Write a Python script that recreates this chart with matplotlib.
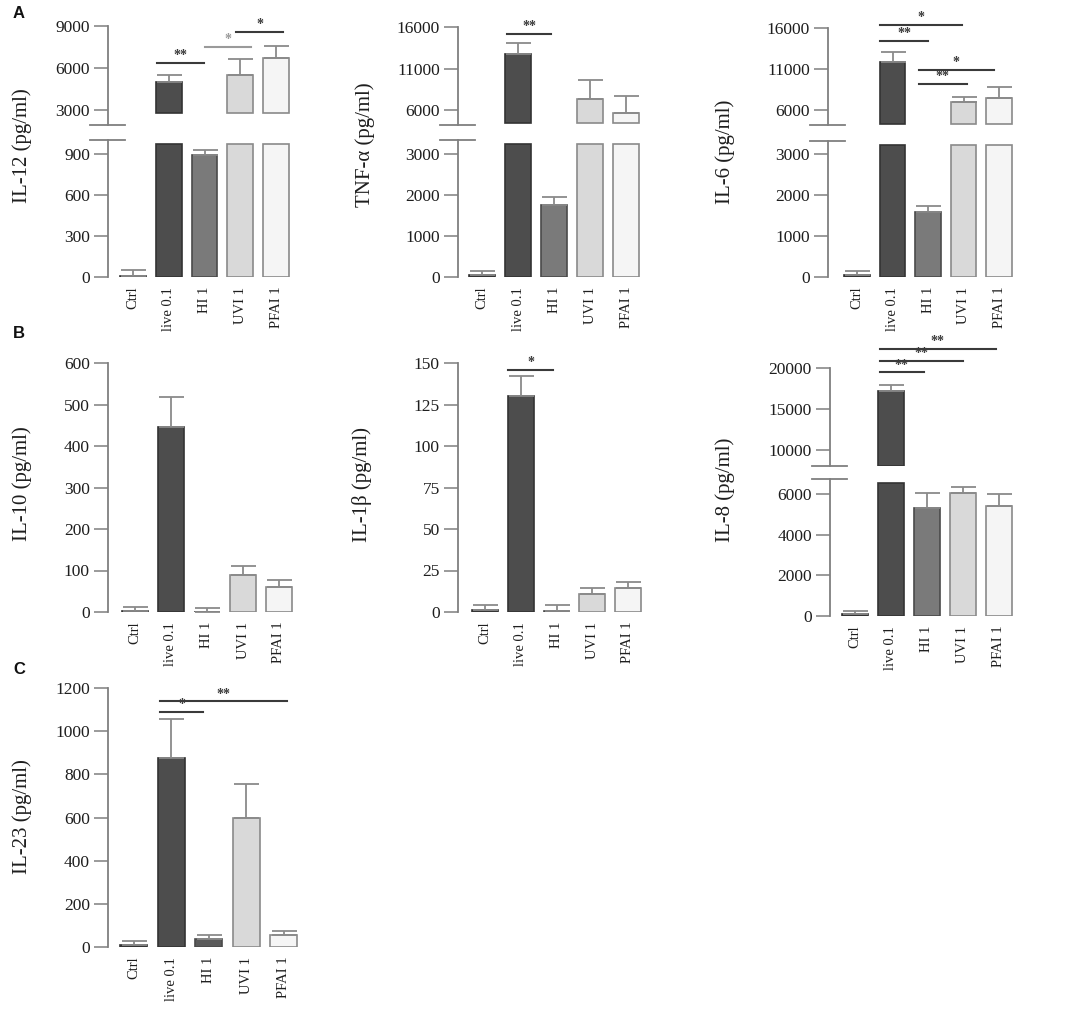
import numpy as np
import matplotlib
matplotlib.use("Agg")
import matplotlib.pyplot as plt
from matplotlib.lines import Line2D

# ---------------- data ----------------
groups = ["Ctrl", "live 0.1", "HI 1", "UVI 1", "PFAI 1"]

il12_mean = [10, 4950, 890, 5470, 6670]
il12_err = [40, 550, 40, 1150, 900]
tnf_mean = [50, 12700, 1760, 7300, 5700]
tnf_err = [90, 1400, 200, 2300, 2000]
il6_mean = [50, 11800, 1600, 6950, 7400]
il6_err = [90, 1300, 140, 600, 1350]
il10_mean = [3, 445, 1, 90, 60]
il10_err = [8, 73, 9, 20, 17]
il1b_mean = [1.5, 130, 0.5, 11, 14.5]
il1b_err = [3, 12, 3.5, 3.5, 3.5]
il8_mean = [100, 17200, 5300, 6050, 5400]
il8_err = [160, 750, 770, 300, 600]
il23_mean = [10, 875, 35, 600, 55]
il23_err = [20, 180, 20, 155, 20]

il12_ticks_hi = [3000, 6000, 9000]
il12_ticks_lo = [0, 300, 600, 900]
tnf_ticks_hi = [6000, 11000, 16000]
tnf_ticks_lo = [0, 1000, 2000, 3000]
il6_ticks_hi = [6000, 11000, 16000]
il6_ticks_lo = [0, 1000, 2000, 3000]
il10_ticks = [0, 100, 200, 300, 400, 500, 600]
il1b_ticks = [0, 25, 50, 75, 100, 125, 150]
il8_ticks_hi = [10000, 15000, 20000]
il8_ticks_lo = [0, 2000, 4000, 6000]
il23_ticks = [0, 200, 400, 600, 800, 1000, 1200]

# significance brackets: (x_start, x_end, y, label)
il12_sig = [(0.67, 1.99, 6360, "**"), (2.01, 3.30, 7490, "*"), (2.88, 4.20, 8580, "*")]
tnf_sig = [(0.69, 1.92, 15200, "**")]
il6_sig = [(0.65, 2.95, 16400, "*"), (0.65, 2.01, 14450, "**"),
           (1.73, 3.86, 10900, "*"), (1.73, 3.09, 9160, "**")]
il1b_sig = [(0.64, 1.91, 146, "*")]
il8_sig = [(0.69, 1.92, 19470, "**"), (0.69, 3.00, 20900, "**"), (0.69, 3.92, 22330, "**")]
il23_sig = [(0.69, 1.85, 1088, "*"), (0.69, 4.09, 1138, "**")]

# ---------------- style ----------------
W, H = 1084, 1011
plt.rcParams["font.family"] = ["Liberation Serif", "DejaVu Serif"]
fig = plt.figure(figsize=(W / 100, H / 100), dpi=100)

fills = ["#444444", "#4d4d4d", "#7a7a7a", "#d9d9d9", "#f5f5f5"]
fills_c = ["#444444", "#4d4d4d", "#5a5a5a", "#d9d9d9", "#f5f5f5"]
edges = ["#333333", "#333333", "#4a4a4a", "#8a8a8a", "#8a8a8a"]
AXC = "#7f7f7f"
TXT = "#1e1e1e"
SIGC = "#3a3a3a"


def px_rect(left, top, width, bottom):
    return [left / W, 1 - bottom / H, width / W, (bottom - top) / H]


def style_axes(ax, xl, show_x, ticks):
    ax.set_xlim(xl, 4.45)
    for s in ("top", "right", "bottom"):
        ax.spines[s].set_visible(False)
    ax.spines["left"].set_color(AXC)
    ax.spines["left"].set_linewidth(1.3)
    ax.set_yticks(ticks)
    ax.tick_params(axis="y", length=10, width=1.1, color=AXC, pad=3,
                   labelsize=12.5, labelcolor=TXT)
    ax.set_xticks(range(len(groups)))
    if show_x:
        ax.set_xticklabels(groups, rotation=90, fontsize=10.5, color=TXT)
        ax.tick_params(axis="x", length=0, pad=7)
    else:
        ax.tick_params(axis="x", length=0, labelbottom=False)
    ax.patch.set_alpha(0)


def draw_bars(ax, means, errs, floor, fc, ceiling=None):
    x = np.arange(len(groups))
    m = np.asarray(means, float)
    top = m if ceiling is None else np.minimum(m, ceiling)
    h = top - floor
    keep = h > 0
    ax.bar(x[keep], h[keep], bottom=floor, width=0.72,
           color=np.array(fc)[keep], edgecolor=np.array(edges)[keep],
           linewidth=1.2, zorder=2)
    ax.errorbar(x, m, yerr=[np.zeros(len(m)), errs], fmt="none",
                ecolor="#8a8a8a", elinewidth=1.3, capsize=9, capthick=1.3,
                zorder=3)


def draw_sig(ax, sigs, colors=None):
    for i, (x0, x1, y, lab) in enumerate(sigs):
        c = SIGC if colors is None else colors[i]
        ax.plot([x0, x1], [y, y], color=c, lw=1.5, clip_on=False, zorder=4)
        ax.annotate(lab, xy=((x0 + x1) / 2, y), xytext=(0, 0.5),
                    textcoords="offset points", ha="center", va="bottom",
                    fontsize=10, fontweight="bold", color=c,
                    annotation_clip=False)


def break_mark(spine_px, y_px):
    fig.add_artist(Line2D([(spine_px - 18) / W, (spine_px + 17) / W],
                          [1 - y_px / H, 1 - y_px / H], color=AXC, lw=1.3))


def ylabel(x_px, y_px, text):
    fig.text(x_px / W, 1 - y_px / H, text, rotation=90, ha="center",
             va="center", fontsize=15, color=TXT)


def broken_panel(spine, xl, sp, up, lo, means, errs, ticks_hi, ticks_lo,
                 lim_hi, lim_lo, floor_hi, sigs, sig_colors=None):
    width = (4.45 - xl) * sp
    ax_hi = fig.add_axes(px_rect(spine, up[0], width, up[1]))
    ax_lo = fig.add_axes(px_rect(spine, lo[0], width, lo[1]))
    # lower bar segments stop a few pixels below the break
    ceiling = lim_lo[1] * (1 - 4.0 / (lo[1] - lo[0]))
    draw_bars(ax_hi, means, errs, floor_hi, fills)
    draw_bars(ax_lo, means, errs, 0, fills, ceiling)
    ax_hi.set_ylim(*lim_hi)
    ax_lo.set_ylim(*lim_lo)
    style_axes(ax_hi, xl, False, ticks_hi)
    style_axes(ax_lo, xl, True, ticks_lo)
    draw_sig(ax_hi, sigs, sig_colors)
    break_mark(spine, up[1])
    break_mark(spine, lo[0])


def simple_panel(spine, xl, sp, top, bottom, means, errs, ticks, lim, sigs,
                 fc=fills):
    width = (4.45 - xl) * sp
    ax = fig.add_axes(px_rect(spine, top, width, bottom))
    draw_bars(ax, means, errs, 0, fc)
    ax.set_ylim(*lim)
    style_axes(ax, xl, True, ticks)
    draw_sig(ax, sigs)
    return ax


# ---------------- row A ----------------
broken_panel(108, -0.70, 35.75, (26, 125), (140, 277), il12_mean, il12_err,
             il12_ticks_hi, il12_ticks_lo, (1900, 9000), (0, 1000), 2780,
             il12_sig, [SIGC, "#9a9a9a", SIGC])
ylabel(22, 146, "IL-12 (pg/ml)")

broken_panel(458, -0.67, 36, (27, 125), (140, 277), tnf_mean, tnf_err,
             tnf_ticks_hi, tnf_ticks_lo, (4200, 16000), (0, 3340), 4480,
             tnf_sig)
ylabel(365, 145, "TNF-α (pg/ml)")

broken_panel(828, -0.82, 35.5, (28, 125), (141, 277), il6_mean, il6_err,
             il6_ticks_hi, il6_ticks_lo, (4160, 16000), (0, 3330), 4290,
             il6_sig)
ylabel(725, 152, "IL-6 (pg/ml)")

# ---------------- row B ----------------
simple_panel(108, -0.75, 36, 363, 612, il10_mean, il10_err, il10_ticks,
             (0, 600), [])
ylabel(22, 484, "IL-10 (pg/ml)")

simple_panel(458, -0.76, 35.7, 363, 612, il1b_mean, il1b_err, il1b_ticks,
             (0, 150), il1b_sig)
ylabel(362, 484, "IL-1β (pg/ml)")

broken_panel(830, -0.69, 36, (368, 466), (479, 616), il8_mean, il8_err,
             il8_ticks_hi, il8_ticks_lo, (8080, 20000), (0, 6740), 8100,
             il8_sig)
ylabel(725, 490, "IL-8 (pg/ml)")

# ---------------- row C ----------------
simple_panel(108, -0.69, 37.5, 688, 947, il23_mean, il23_err, il23_ticks,
             (0, 1200), il23_sig, fc=fills_c)
ylabel(22, 817, "IL-23 (pg/ml)")

# panel letters
for lab, (xp, yp) in zip(["A", "B", "C"], [(19, 13), (19, 334), (19, 669)]):
    fig.text(xp / W, 1 - yp / H, lab, ha="center", va="center", fontsize=12,
             fontweight="bold", family=["Liberation Sans", "DejaVu Sans"],
             color="#111111")

fig.savefig("out.png", dpi=100, facecolor="white")
